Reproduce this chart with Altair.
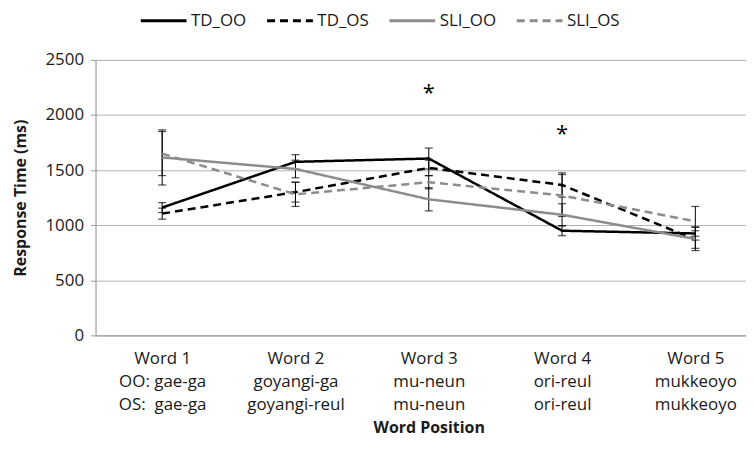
import altair as alt
import pandas as pd

# ---- data ----
positions = [1, 2, 3, 4, 5]
line1 = ["Word 1", "Word 2", "Word 3", "Word 4", "Word 5"]
line2 = ["OO: gae-ga", "goyangi-ga", "mu-neun", "ori-reul", "mukkeoyo"]
line3 = ["OS:\u00a0\u00a0gae-ga", "goyangi-reul", "mu-neun", "ori-reul", "mukkeoyo"]

series_names = ["TD_OO", "TD_OS", "SLI_OO", "SLI_OS"]
td_oo = [1160, 1575, 1605, 950, 925]
td_oo_err = [45, 65, 95, 45, 60]
td_os = [1105, 1300, 1520, 1365, 870]
td_os_err = [50, 90, 70, 110, 80]
sli_oo = [1615, 1510, 1235, 1095, 875]
sli_oo_err = [250, 80, 105, 100, 105]
sli_os = [1650, 1280, 1390, 1270, 1035]
sli_os_err = [200, 110, 60, 190, 135]

star_x = [3, 4]
star_y = [2200, 1830]
star_text = ["*", "*"]

y_ticks = [0, 500, 1000, 1500, 2000, 2500]

# ---- tables ----
rows = []
for name, vals, errs in zip(series_names,
                            [td_oo, td_os, sli_oo, sli_os],
                            [td_oo_err, td_os_err, sli_oo_err, sli_os_err]):
    for p, v, e in zip(positions, vals, errs):
        rows.append({"series": name, "pos": p, "rt": v, "lo": v - e, "hi": v + e})
df = pd.DataFrame(rows)
stars = pd.DataFrame({"pos": star_x, "rt": star_y, "t": star_text})

def js_list(items):
    return "[" + ",".join("'" + s + "'" for s in items) + "]"

expr = "''"
for p, a, b, c in reversed(list(zip(positions, line1, line2, line3))):
    expr = f"datum.value == {p} ? {js_list([a, b, c])} : ({expr})"

FONT = "Open Sans"
GRAY = "#9a9a9a"

xscale = alt.Scale(domain=[0.5, 5.38], nice=False, zero=False)
yscale = alt.Scale(domain=[0, 2500], nice=False)

x_axis = alt.Axis(values=positions, labelExpr=expr, grid=False, ticks=False,
                  domainColor=GRAY, domainWidth=1,
                  labelFontSize=17, labelLineHeight=23, labelPadding=15,
                  labelColor="#1a1a1a", labelFont=FONT,
                  labelOverlap=False, labelFlush=False, labelBound=False,
                  title="Word Position", titleFont=FONT, titleFontSize=16,
                  titleFontWeight="bold", titleColor="#1a1a1a",
                  titleX=335, titleY=93, titleAlign="center",
                  titleBaseline="middle")
y_axis = alt.Axis(values=y_ticks, format="d", grid=True, gridColor="#b3b3b3",
                  gridWidth=1,
                  domainColor=GRAY, tickColor=GRAY, tickSize=5,
                  labelFontSize=17, labelPadding=7, labelColor="#1a1a1a",
                  labelFont=FONT,
                  title="Response Time (ms)", titleFont=FONT, titleFontSize=16,
                  titleFontWeight="bold", titleColor="#1a1a1a",
                  titleAngle=270, titleX=-75, titleY=138.5,
                  titleAlign="center", titleBaseline="middle")

x_enc = alt.X("pos:Q", scale=xscale, axis=x_axis)
y_enc = alt.Y("rt:Q", scale=yscale, axis=y_axis)

legend = alt.Legend(title=None, orient="none", legendX=44, legendY=-64,
                    direction="horizontal", columns=4, columnPadding=14,
                    symbolType="stroke", symbolSize=2116, symbolStrokeWidth=3,
                    labelFontSize=17, labelFont=FONT, labelColor="#1a1a1a",
                    labelOffset=3)

color_scale = alt.Scale(domain=series_names,
                        range=["#000000", "#000000", "#8c8c8c", "#8c8c8c"])
dash_scale = alt.Scale(domain=series_names,
                       range=[[1, 0], [8, 5], [1, 0], [8, 5]])

base = alt.Chart(df)

rules = base.mark_rule(color="#000000", strokeWidth=1).encode(
    x=x_enc, y=alt.Y("lo:Q", scale=yscale), y2="hi:Q")
caps_lo = base.mark_tick(orient="horizontal", color="#000000", size=8,
                         thickness=1.2).encode(x=x_enc, y=alt.Y("lo:Q", scale=yscale))
caps_hi = base.mark_tick(orient="horizontal", color="#000000", size=8,
                         thickness=1.2).encode(x=x_enc, y=alt.Y("hi:Q", scale=yscale))

lines = base.mark_line(strokeWidth=2.5).encode(
    x=x_enc, y=y_enc,
    color=alt.Color("series:N", scale=color_scale, legend=legend,
                    sort=series_names),
    strokeDash=alt.StrokeDash("series:N", scale=dash_scale, legend=legend,
                              sort=series_names),
    detail="series:N",
)

star_marks = alt.Chart(stars).mark_text(fontSize=22, font=FONT, color="#000000",
                                        baseline="middle").encode(
    x=alt.X("pos:Q", scale=xscale), y=alt.Y("rt:Q", scale=yscale), text="t:N")

chart = alt.layer(rules, caps_lo, caps_hi, lines, star_marks).properties(
    width=654, height=277,
    autosize=alt.AutoSizeParams(type="none"),
    padding={"left": 88, "top": 51, "right": 0, "bottom": 107},
).configure_view(stroke=None).configure(background="white")

chart.save("out.html", embed_options={"renderer": "svg", "actions": False})
